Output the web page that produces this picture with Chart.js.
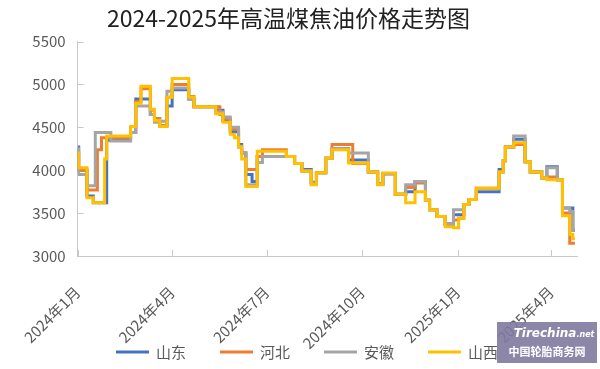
<!DOCTYPE html>
<html>
<head>
<meta charset="utf-8">
<script src="https://cdn.jsdelivr.net/npm/chart.js@4/dist/chart.umd.min.js"></script>
<style>
  html, body { margin: 0; padding: 0; background: #fff; }
  #wrap { position: relative; width: 600px; height: 369px; }
  #logo {
    position: absolute; left: 497px; top: 322px; width: 100px; height: 41px;
    background: rgba(128, 122, 158, 0.9); color: #fff;
    font-family: 'Noto Sans CJK SC', sans-serif; text-align: center;
  }
  #logo .en { font: italic bold 12px 'DejaVu Sans', sans-serif; line-height: 16px; padding-top: 3px; padding-left: 14px; }
  #logo .en span { font-size: 8px; }
  #logo .cn { font-size: 11px; font-weight: bold; line-height: 16px; }
</style>
</head>
<body>
<div id="wrap">
  <canvas id="chart" width="600" height="369"></canvas>
  <div id="logo"><div class="en">Tirechina<span>.net</span></div><div class="cn">中国轮胎商务网</div></div>
</div>
<script>
// days since 2024-01-01 where a price changes
const changeDays = [0, 1, 9, 15, 17, 19, 23, 26, 28, 32, 51, 56, 61, 70, 74, 79, 86, 91, 107, 112,
  133, 137, 140, 147, 151, 155, 158, 162, 168, 173, 178, 201, 209, 216, 225, 230, 239, 245, 261, 265,
  280, 289, 294, 306, 316, 325, 335, 339, 346, 354, 362, 367, 372, 377, 384, 406, 410, 412, 420, 431,
  436, 447, 452, 462, 467, 474, 477, 479];

const shandong = [4270, 4000, 3700, 3620, 3620, 3620, 3620, 3620, 4350, 4350, 4440, 4830, 4830, 4650, 4600, 4520, 4750, 4940, 4830, 4740,
  4700, 4700, 4580, 4450, 4450, 4300, 4200, 3950, 3870, 4160, 4160, 4160, 4080, 4010, 3860, 3970, 4140, 4250, 4120, 4120,
  3980, 3840, 3960, 3720, 3750, 3870, 3650, 3540, 3460, 3370, 3480, 3480, 3600, 3660, 3750, 4010, 4110, 4270, 4360, 4100,
  3980, 3910, 4040, 3890, 3560, 3560, 3300, 3300];
const hebei = [4200, 4000, 3770, 3770, 3770, 4240, 4380, 4380, 4380, 4380, 4510, 4800, 4950, 4700, 4600, 4520, 4850, 5000, 4860, 4740,
  4740, 4650, 4600, 4480, 4480, 4270, 4200, 4010, 4010, 4160, 4240, 4160, 4080, 3990, 3850, 3970, 4140, 4300, 4300, 4080,
  3980, 3840, 3960, 3720, 3800, 3850, 3650, 3540, 3460, 3370, 3420, 3440, 3600, 3660, 3790, 3980, 4110, 4270, 4300, 4100,
  3980, 3910, 3920, 3890, 3500, 3150, 3150, 3150];
const anhui = [4250, 3950, 3820, 3820, 4440, 4440, 4440, 4440, 4440, 4340, 4440, 4750, 4750, 4650, 4560, 4570, 4920, 4960, 4830, 4740,
  4680, 4680, 4620, 4500, 4500, 4280, 4200, 3830, 3830, 4090, 4160, 4160, 4080, 3990, 3850, 3970, 4140, 4250, 4200, 4200,
  3980, 3840, 3960, 3720, 3830, 3870, 3650, 3540, 3460, 3380, 3540, 3540, 3600, 3660, 3780, 3980, 4110, 4270, 4400, 4100,
  3980, 3910, 4030, 3890, 3560, 3520, 3300, 3300];
const shanxi = [4200, 4030, 3680, 3620, 3620, 3620, 3620, 4130, 4400, 4400, 4510, 4780, 4980, 4710, 4580, 4510, 4850, 5070, 4850, 4740,
  4660, 4660, 4560, 4420, 4380, 4270, 4130, 3810, 3810, 4220, 4220, 4160, 4080, 3990, 3830, 3970, 4140, 4240, 4085, 4085,
  3980, 3830, 3967, 3720, 3620, 3750, 3650, 3540, 3460, 3340, 3330, 3440, 3600, 3660, 3790, 3980, 4110, 4270, 4320, 4100,
  3980, 3910, 3890, 3890, 3470, 3250, 3200, 3200];

const tickDays = [0, 91, 182, 274, 366, 456];
const tickLabels = ['2024年1月', '2024年4月', '2024年7月', '2024年10月', '2025年1月', '2025年4月'];
const seriesNames = ['山东', '河北', '安徽', '山西'];
const colors = ['#4472C4', '#ED7D31', '#A5A5A5', '#FFC000'];

function toPoints(arr) {
  return changeDays.map((d, i) => ({ x: d, y: arr[i] }));
}

// excel style tick marks that point into the plot area
const innerTicks = {
  id: 'innerTicks',
  beforeDatasetsDraw(chart) {
    const { ctx, chartArea: { left, bottom }, scales: { x, y } } = chart;
    ctx.save();
    ctx.strokeStyle = '#c8c8c8';
    ctx.lineWidth = 1;
    ctx.beginPath();
    y.ticks.forEach(t => {
      const py = Math.round(y.getPixelForValue(t.value)) + 0.5;
      ctx.moveTo(left, py);
      ctx.lineTo(left + 6, py);
    });
    x.ticks.forEach(t => {
      const px = Math.round(x.getPixelForValue(t.value)) + 0.5;
      ctx.moveTo(px, bottom);
      ctx.lineTo(px, bottom - 6);
    });
    ctx.stroke();
    ctx.restore();
  }
};

// legend under the rotated labels, spaced like the excel one
const bottomLegend = {
  id: 'bottomLegend',
  afterDraw(chart) {
    const ctx = chart.ctx;
    const lineW = 33, gap = 7, itemGap = 34, cy = 352, cx = 307;
    ctx.save();
    ctx.font = "15px 'Noto Sans CJK SC', sans-serif";
    ctx.textBaseline = 'middle';
    const items = chart.data.datasets.map(ds => ({ ds, w: lineW + gap + ctx.measureText(ds.label).width }));
    const total = items.reduce((s, it) => s + it.w, 0) + itemGap * (items.length - 1);
    let x = cx - total / 2;
    items.forEach(it => {
      ctx.strokeStyle = it.ds.borderColor;
      ctx.lineWidth = 3;
      ctx.beginPath();
      ctx.moveTo(x, cy);
      ctx.lineTo(x + lineW, cy);
      ctx.stroke();
      ctx.fillStyle = '#595959';
      ctx.fillText(it.ds.label, x + lineW + gap, cy);
      x += it.w + itemGap;
    });
    ctx.restore();
  }
};

Chart.defaults.font.family = "'Noto Sans CJK SC', 'Noto Sans', sans-serif";
Chart.defaults.color = '#595959';

const allSeries = [shandong, hebei, anhui, shanxi];

new Chart(document.getElementById('chart'), {
  type: 'line',
  data: {
    datasets: allSeries.map((arr, i) => ({
      label: seriesNames[i],
      data: toPoints(arr),
      borderColor: colors[i],
      backgroundColor: colors[i],
      borderWidth: 3,
      pointRadius: 0,
      stepped: 'before',
      order: 4 - i
    }))
  },
  options: {
    responsive: false,
    animation: false,
    layout: { padding: { left: 0, right: 23, top: 0, bottom: 0 } },
    scales: {
      x: {
        type: 'linear',
        min: 0,
        max: 481,
        afterBuildTicks: (scale) => {
          scale.ticks = tickDays.map(v => ({ value: v }));
        },
        afterFit: (scale) => { scale.height = 113; },
        ticks: {
          autoSkip: false,
          minRotation: 45,
          maxRotation: 45,
          padding: 27,
          font: { size: 15 },
          color: '#595959',
          callback: (v) => tickLabels[tickDays.indexOf(v)]
        },
        grid: { display: false, drawTicks: false },
        border: { display: true, color: '#c8c8c8' }
      },
      y: {
        min: 3000,
        max: 5500,
        afterFit: (scale) => { scale.width = 70; },
        ticks: {
          stepSize: 500,
          padding: 12,
          font: { size: 15 },
          color: '#595959',
          callback: (v) => String(v)
        },
        grid: { display: false, drawTicks: false },
        border: { display: true, color: '#c8c8c8' }
      }
    },
    plugins: {
      title: {
        display: true,
        text: '2024-2025年高温煤焦油价格走势图',
        font: { size: 23, weight: 'normal' },
        color: '#222',
        padding: { top: 4, bottom: 10 }
      },
      legend: { display: false },
      tooltip: { enabled: false }
    }
  },
  plugins: [innerTicks, bottomLegend]
});
</script>
</body>
</html>
